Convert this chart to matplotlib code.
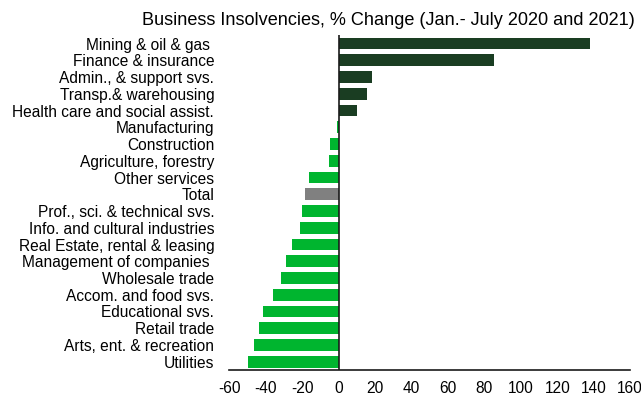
import matplotlib.pyplot as plt

plt.rcParams['font.family'] = ['Liberation Sans', 'DejaVu Sans']
plt.rcParams['axes.unicode_minus'] = False

sectors = ["Mining & oil & gas ", "Finance & insurance", "Admin., & support svs.",
           "Transp.& warehousing", "Health care and social assist.", "Manufacturing",
           "Construction", "Agriculture, forestry", "Other services", "Total",
           "Prof., sci. & technical svs.", "Info. and cultural industries",
           "Real Estate, rental & leasing", "Management of companies ",
           "Wholesale trade", "Accom. and food svs.", "Educational svs.",
           "Retail trade", "Arts, ent. & recreation", "Utilities"]
pct_change = [138, 85, 18.4, 15.5, 10, -1.2, -5, -5.2, -16.4, -18.4,
              -20, -21, -25.5, -29.2, -31.8, -36.2, -41.7, -44, -46.4, -49.9]

colors = []
for name, v in zip(sectors, pct_change):
    if name == "Total":
        colors.append('#808080')
    elif v > 0:
        colors.append('#1a3d22')
    else:
        colors.append('#00b52f')

fig = plt.figure(figsize=(6.41, 3.95), dpi=100)
ax = fig.add_axes([0.358, 0.063, 0.625, 0.848])

y = list(range(len(sectors)))
ax.barh(y, pct_change, height=0.7, color=colors, zorder=2)
ax.axvline(0, color='#1a1a1a', lw=1.2, zorder=3)

ax.set_ylim(len(sectors) - 0.5, -0.5)
ax.set_xlim(-60, 160)
ax.set_xticks(range(-60, 161, 20))
ax.set_yticks(y)
ax.set_yticklabels(sectors)
ax.tick_params(axis='both', length=0, labelsize=11.2)
ax.tick_params(axis='y', pad=11)
ax.tick_params(axis='x', pad=8)

for s in ['top', 'right', 'left']:
    ax.spines[s].set_visible(False)
ax.spines['bottom'].set_color('#1a1a1a')
ax.spines['bottom'].set_linewidth(1.2)

fig.text(0.606, 0.947, "Business Insolvencies, % Change (Jan.- July 2020 and 2021)",
         ha='center', va='center', fontsize=13.1)

fig.savefig('out.png', dpi=100)
